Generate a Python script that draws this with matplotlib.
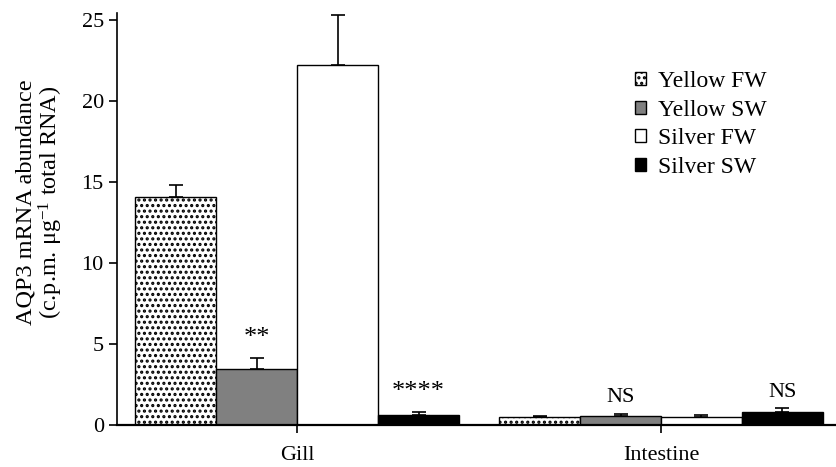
import matplotlib.pyplot as plt
import numpy as np

plt.rcParams['font.family'] = ['Liberation Serif', 'DejaVu Serif']
plt.rcParams['mathtext.fontset'] = 'custom'
plt.rcParams['mathtext.rm'] = 'Liberation Serif'
plt.rcParams['hatch.linewidth'] = 1.5

tissues = ['Gill', 'Intestine']
groups = ['Yellow FW', 'Yellow SW', 'Silver FW', 'Silver SW']
means = {
    'Yellow FW': [14.05, 0.50],
    'Yellow SW': [3.45, 0.58],
    'Silver FW': [22.2, 0.50],
    'Silver SW': [0.62, 0.78],
}
sems = {
    'Yellow FW': [0.75, 0.06],
    'Yellow SW': [0.70, 0.12],
    'Silver FW': [3.1, 0.10],
    'Silver SW': [0.20, 0.25],
}
signif = {
    'Yellow SW': ['**', 'NS'],
    'Silver SW': ['****', 'NS'],
}

colors = {'Yellow FW': 'white', 'Yellow SW': '#808080',
          'Silver FW': 'white', 'Silver SW': 'black'}
hatches = {'Yellow FW': '...', 'Yellow SW': None, 'Silver FW': None, 'Silver SW': None}

fig = plt.figure(figsize=(8.36, 4.67), dpi=100)
ax = fig.add_axes([0.14, 0.09, 0.86, 0.882])

x = np.arange(len(tissues))
w = 0.2225
for i, g in enumerate(groups):
    pos = x + (i - 1.5) * w
    ax.bar(pos, means[g], width=w, color=colors[g], edgecolor='black',
           linewidth=1.0, hatch=hatches[g], label=g, zorder=2)
    for p, m, s in zip(pos, means[g], sems[g]):
        ax.errorbar(p, m, yerr=[[0], [s]], fmt='none', ecolor='black',
                    elinewidth=1.2, capsize=5, capthick=1.2, zorder=3)
    if g in signif:
        for j, (p, t) in enumerate(zip(pos, signif[g])):
            top = means[g][j] + sems[g][j]
            if t.startswith('*'):
                ax.text(p, top + 1.2, t, ha='center', va='center', fontsize=19)
            else:
                ax.text(p, top + 1.0, t, ha='center', va='center', fontsize=16)

ax.set_xlim(-0.495, 1.481)
ax.set_ylim(0, 25.43)
ax.set_yticks([0, 5, 10, 15, 20, 25])
ax.set_xticks(x)
ax.set_xticklabels(tissues)
ax.tick_params(axis='both', direction='out', labelsize=16, width=1.2, length=6)
ax.tick_params(axis='x', pad=9)
ax.spines['top'].set_visible(False)
ax.spines['right'].set_visible(False)
ax.spines['left'].set_linewidth(1.2)
ax.spines['bottom'].set_linewidth(1.6)
ax.set_ylabel('AQP3 mRNA abundance\n(c.p.m. $\\mathregular{\\mu g^{-1}}$ total RNA)',
              fontsize=17.5, linespacing=1.05)
ax.yaxis.set_label_coords(-0.072, 0.54)

leg = ax.legend(loc='upper left', bbox_to_anchor=(0.72, 0.86), frameon=False,
                fontsize=17, handlelength=0.47, handleheight=0.47,
                handletextpad=0.5, labelspacing=0.33, borderpad=0,
                borderaxespad=0)

fig.savefig('out.png', dpi=100)
